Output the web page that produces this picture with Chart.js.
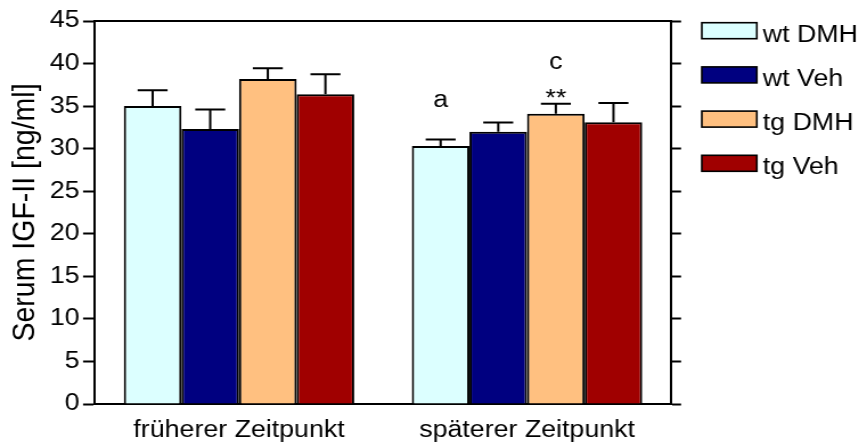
<!DOCTYPE html>
<html>
<head>
<meta charset="utf-8">
<script src="https://cdn.jsdelivr.net/npm/chart.js@4"></script>
<style>
  html, body { margin: 0; padding: 0; background: #fff; overflow: hidden; }
  #wrap { width: 867px; height: 445px; overflow: hidden; }
  /* the original picture is stretched horizontally, so the canvas is too */
  #chart { transform: scaleX(1.1393); transform-origin: 0 0; }
</style>
</head>
<body>
<div id="wrap"><canvas id="chart" width="761" height="445"></canvas></div>
<script>
// Daten
const zeitpunkte = ['früherer Zeitpunkt', 'späterer Zeitpunkt'];
const gruppen = ['wt DMH', 'wt Veh', 'tg DMH', 'tg Veh'];
const farben = ['#dcffff', '#000080', '#ffc080', '#a00000'];

const wtDMH = [35.0, 30.3];
const wtVeh = [32.3, 32.0];
const tgDMH = [38.2, 34.1];
const tgVeh = [36.4, 33.1];

// SEM (nur nach oben gezeichnet)
const wtDMHsem = [1.87, 0.78];
const wtVehsem = [2.3, 1.06];
const tgDMHsem = [1.25, 1.17];
const tgVehsem = [2.34, 2.27];

const yTicks = [0, 5, 10, 15, 20, 25, 30, 35, 40, 45];

// Signifikanz-Markierungen: Gruppe (Dataset), Zeitpunkt, Text
const marken = [
  { ds: 0, zp: 1, text: 'a' },
  { ds: 2, zp: 1, text: '**' },
  { ds: 2, zp: 1, text: 'c' }
];

const werte = [wtDMH, wtVeh, tgDMH, tgVeh];
const sem = [wtDMHsem, wtVehsem, tgDMHsem, tgVehsem];
const schrift = "'Liberation Sans', Arial, sans-serif";
const groesse = 23.5;

const extras = {
  id: 'extras',
  afterDatasetsDraw(chart) {
    const ctx = chart.ctx;
    const y = chart.scales.y;
    const area = chart.chartArea;
    ctx.save();
    ctx.strokeStyle = '#000';
    ctx.lineWidth = 2;

    // Rahmen oben
    ctx.beginPath();
    ctx.moveTo(area.left - 1, area.top);
    ctx.lineTo(area.right + 1, area.top);
    ctx.stroke();

    // Fehlerbalken
    werte.forEach((reihe, i) => {
      const meta = chart.getDatasetMeta(i);
      meta.data.forEach((bar, j) => {
        const oben = y.getPixelForValue(reihe[j] + sem[i][j]);
        const halb = bar.width * 0.26;
        ctx.beginPath();
        ctx.moveTo(bar.x, bar.y);
        ctx.lineTo(bar.x, oben);
        ctx.moveTo(bar.x - halb, oben);
        ctx.lineTo(bar.x + halb, oben);
        ctx.stroke();
      });
    });

    // Markierungen
    ctx.fillStyle = '#000';
    ctx.font = groesse + 'px ' + schrift;
    ctx.textAlign = 'center';
    ctx.textBaseline = 'alphabetic';
    const abstand = { 'a': -32, '**': 2.5, 'c': -35 };
    marken.forEach(m => {
      const bar = chart.getDatasetMeta(m.ds).data[m.zp];
      const oben = y.getPixelForValue(werte[m.ds][m.zp] + sem[m.ds][m.zp]);
      ctx.fillText(m.text, bar.x, oben + abstand[m.text]);
    });

    // Legende
    ctx.textAlign = 'left';
    ctx.lineWidth = 1.6;
    gruppen.forEach((name, i) => {
      const top = 22.7 + i * 44.2;
      ctx.fillStyle = farben[i];
      ctx.fillRect(616, top, 48.3, 16);
      ctx.strokeRect(616, top, 48.3, 16);
      ctx.fillStyle = '#000';
      ctx.fillText(name, 669.5, top + 19);
    });
    ctx.restore();
  }
};

new Chart(document.getElementById('chart'), {
  type: 'bar',
  data: {
    labels: zeitpunkte,
    datasets: gruppen.map((g, i) => ({
      label: g,
      data: werte[i],
      backgroundColor: farben[i],
      borderColor: '#000',
      borderWidth: 2,
      categoryPercentage: 0.8,
      barPercentage: 1.0
    }))
  },
  options: {
    responsive: false,
    animation: false,
    layout: { padding: { left: 0, right: 163, top: 21, bottom: 0 } },
    plugins: { legend: { display: false }, tooltip: { enabled: false } },
    scales: {
      x: {
        grid: { display: false },
        border: { display: true, color: '#000', width: 2 },
        ticks: { color: '#000', font: { family: schrift, size: groesse }, padding: 4, maxRotation: 0 },
        afterFit(s) { s.height = 41; }
      },
      y: {
        min: yTicks[0],
        max: yTicks[yTicks.length - 1],
        ticks: { stepSize: yTicks[1] - yTicks[0], color: '#000', font: { family: schrift, size: groesse }, padding: 3 },
        grid: { drawOnChartArea: false, tickLength: 10.5, tickWidth: 2, tickColor: '#000' },
        border: { display: true, color: '#000', width: 2 },
        title: { display: true, text: 'Serum IGF-II [ng/ml]', color: '#000', font: { family: schrift, size: 28.5 }, padding: { top: 5, bottom: 0 } },
        afterFit(s) { s.width = 83.4; }
      },
      y2: {
        position: 'right',
        min: yTicks[0],
        max: yTicks[yTicks.length - 1],
        ticks: { display: false, stepSize: yTicks[1] - yTicks[0] },
        grid: { drawOnChartArea: false, tickLength: 8.8, tickWidth: 2, tickColor: '#000' },
        border: { display: true, color: '#000', width: 2 },
        afterFit(s) { s.width = 9; }
      }
    }
  },
  plugins: [extras]
});
</script>
</body>
</html>
